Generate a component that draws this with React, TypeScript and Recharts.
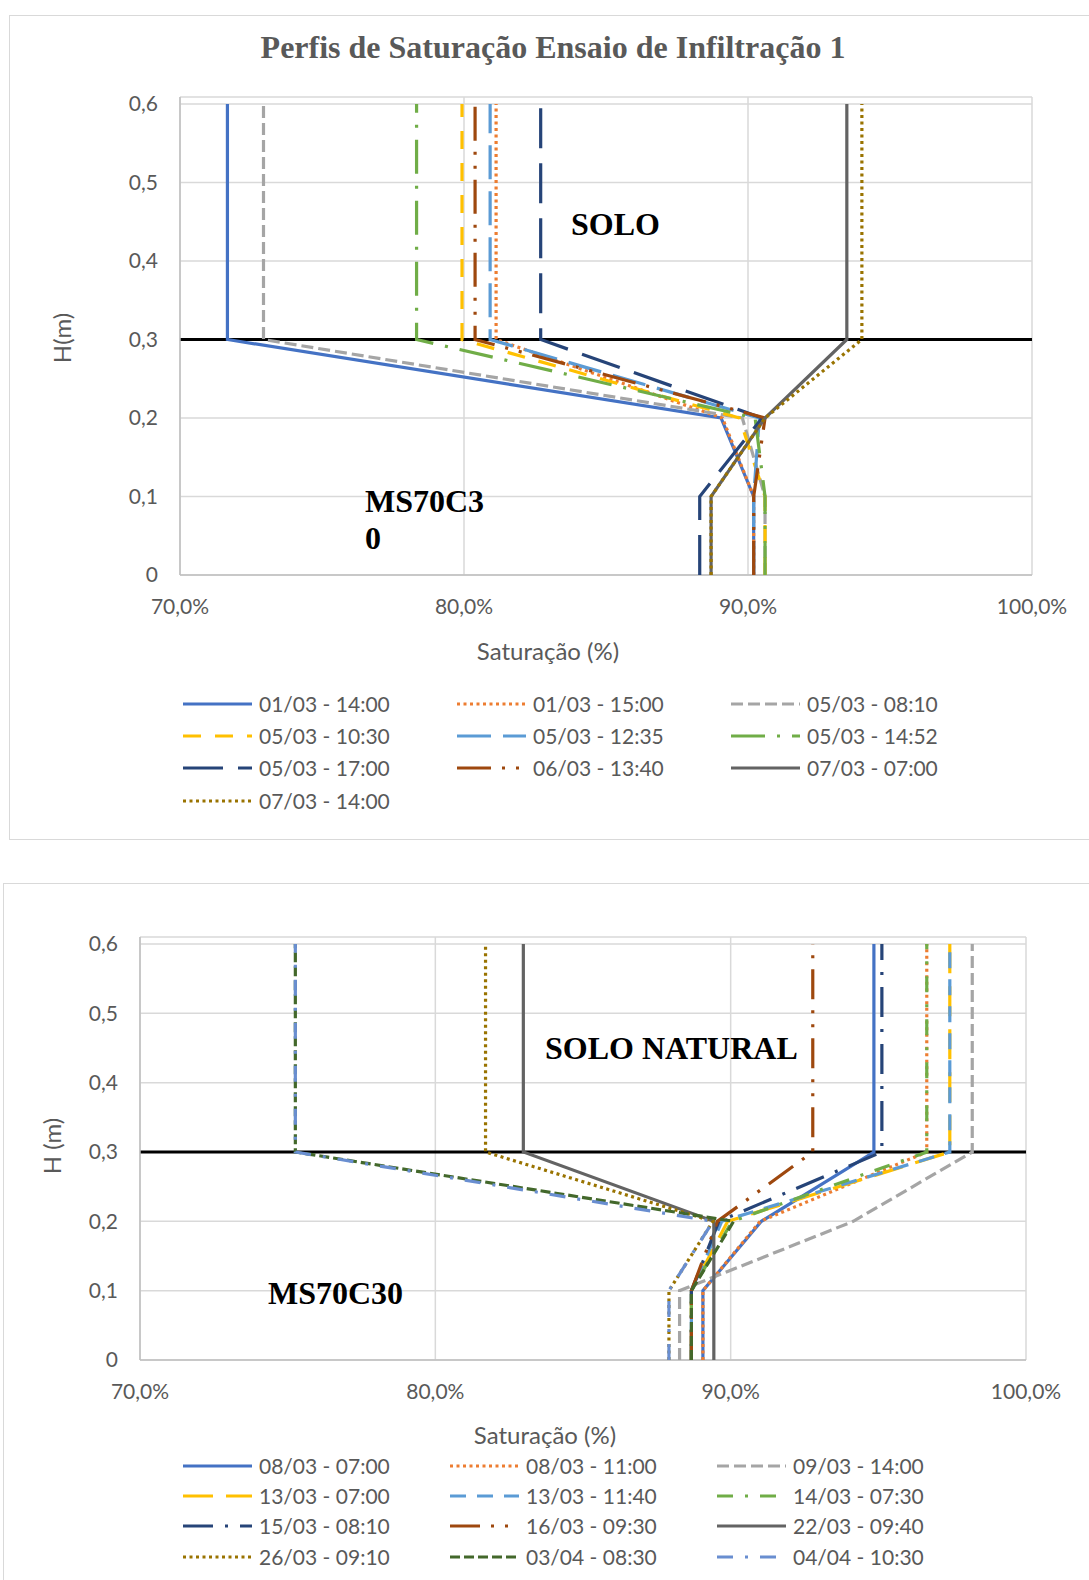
import React from 'react';
import { ScatterChart, Scatter, XAxis, YAxis, CartesianGrid, ReferenceLine } from 'recharts';

// profundidade (m) de cada ponto dos perfis
const depths = [0, 0.1, 0.2, 0.3, 0.6];
const satTicks = [70, 80, 90, 100];
const depthTicks = [0, 0.1, 0.2, 0.3, 0.4, 0.5, 0.6];

// ensaio 1 - saturação (%) em cada profundidade
const s0103_1400 = [90.2, 90.2, 89.05, 71.67, 71.67];
const s0103_1500 = [90.2, 90.2, 89.1, 81.13, 81.13];
const s0503_0810 = [90.6, 90.6, 89.8, 72.94, 72.94];
const s0503_1030 = [90.6, 90.6, 89.7, 79.93, 79.93];
const s0503_1235 = [90.2, 90.2, 90.4, 80.92, 80.92];
const s0503_1452 = [90.6, 90.6, 90.25, 78.33, 78.33];
const s0503_1700 = [88.3, 88.3, 90.5, 82.7, 82.7];
const s0603_1340 = [90.2, 90.2, 90.6, 80.39, 80.39];
const s0703_0700 = [88.7, 88.7, 90.6, 93.48, 93.48];
const s0703_1400 = [88.7, 88.7, 90.6, 94.01, 94.01];

// ensaio 2 - solo natural
const s0803_0700 = [89.06, 89.06, 91.04, 94.85, 94.85];
const s0803_1100 = [89.06, 89.06, 91.0, 96.64, 96.64];
const s0903_1400 = [88.27, 88.27, 94.15, 98.18, 98.18];
const s1303_0700 = [88.67, 88.67, 89.9, 97.42, 97.42];
const s1303_1140 = [88.67, 88.67, 89.7, 97.42, 97.42];
const s1403_0730 = [88.67, 88.67, 90.05, 96.64, 96.64];
const s1503_0810 = [88.67, 88.67, 89.6, 95.12, 95.12];
const s1603_0930 = [88.67, 88.67, 89.55, 92.78, 92.78];
const s2203_0940 = [89.43, 89.43, 89.43, 82.98, 82.98];
const s2603_0910 = [87.91, 87.91, 89.4, 81.7, 81.7];
const s0304_0830 = [88.67, 88.67, 90.1, 75.26, 75.26];
const s0404_1030 = [87.91, 87.91, 89.4, 75.26, 75.26];

const topLabels = ['01/03 - 14:00', '01/03 - 15:00', '05/03 - 08:10', '05/03 - 10:30', '05/03 - 12:35',
  '05/03 - 14:52', '05/03 - 17:00', '06/03 - 13:40', '07/03 - 07:00', '07/03 - 14:00'];
const topValues = [s0103_1400, s0103_1500, s0503_0810, s0503_1030, s0503_1235,
  s0503_1452, s0503_1700, s0603_1340, s0703_0700, s0703_1400];

const bottomLabels = ['08/03 - 07:00', '08/03 - 11:00', '09/03 - 14:00', '13/03 - 07:00', '13/03 - 11:40',
  '14/03 - 07:30', '15/03 - 08:10', '16/03 - 09:30', '22/03 - 09:40', '26/03 - 09:10', '03/04 - 08:30', '04/04 - 10:30'];
const bottomValues = [s0803_0700, s0803_1100, s0903_1400, s1303_0700, s1303_1140,
  s1403_0730, s1503_0810, s1603_0930, s2203_0940, s2603_0910, s0304_0830, s0404_1030];

type LineStyle = { color: string; dash?: string };

const DOT = '3 3.5';
const SYSDASH = '12 5';

const topStyles: LineStyle[] = [
  { color: '#4472C4' },
  { color: '#ED7D31', dash: DOT },
  { color: '#A5A5A5', dash: SYSDASH },
  { color: '#FFC000', dash: '18 14' },
  { color: '#5B9BD5', dash: '34 12' },
  { color: '#70AD47', dash: '34 12 3 12' },
  { color: '#264478', dash: '40 15' },
  { color: '#9E480E', dash: '34 11 3 11 3 11' },
  { color: '#636363' },
  { color: '#997300', dash: DOT },
];

const bottomStyles: LineStyle[] = [
  { color: '#4472C4' },
  { color: '#ED7D31', dash: DOT },
  { color: '#A5A5A5', dash: SYSDASH },
  { color: '#FFC000', dash: '30 13' },
  { color: '#5B9BD5', dash: '16 11' },
  { color: '#70AD47', dash: '16 12 3 12' },
  { color: '#264478', dash: '30 12 3 12' },
  { color: '#9E480E', dash: '30 11 3 11 3 11' },
  { color: '#636363' },
  { color: '#997300', dash: DOT },
  { color: '#43682B', dash: '10 4' },
  { color: '#698ED0', dash: '16 12 3 12' },
];

const FONT = 'Lato, "Open Sans", sans-serif';
const SERIF = '"Liberation Serif", "Times New Roman", serif';
const TEXT = '#595959';

const fmtDepth = (v: number) => (v === 0 ? '0' : v.toFixed(1).replace('.', ','));
const fmtSat = (v: number) => v.toFixed(1).replace('.', ',') + '%';
const noShape = () => <g />;

const toPoints = (vals: number[]) => depths.map((h, i) => ({ s: vals[i], h }));

interface ProfileProps {
  width: number;
  height: number;
  margin: { top: number; right: number; bottom: number; left: number };
  yMax: number;
  values: number[][];
  styles: LineStyle[];
}

const ProfileChart: React.FC<ProfileProps> = ({ width, height, margin, yMax, values, styles }) => (
  <ScatterChart width={width} height={height} margin={margin}>
    <CartesianGrid stroke="#d9d9d9" strokeWidth={1.5} />
    <XAxis
      type="number"
      dataKey="s"
      domain={[70, 100]}
      ticks={satTicks}
      tickFormatter={fmtSat}
      allowDataOverflow
      height={50}
      tickSize={0}
      tickMargin={24}
      axisLine={{ stroke: '#bfbfbf', strokeWidth: 1.5 }}
      tick={{ fill: TEXT, fontSize: 21, fontFamily: FONT }}
    />
    <YAxis
      type="number"
      dataKey="h"
      domain={[0, yMax]}
      ticks={depthTicks}
      tickFormatter={fmtDepth}
      allowDataOverflow
      width={60}
      tickSize={0}
      tickMargin={22}
      axisLine={{ stroke: '#bfbfbf', strokeWidth: 1.5 }}
      tick={{ fill: TEXT, fontSize: 21, fontFamily: FONT }}
    />
    {values.map((vals, i) => (
      <Scatter
        key={i}
        data={toPoints(vals)}
        fill={styles[i].color}
        shape={noShape}
        line={{ stroke: styles[i].color, strokeWidth: 3.2, strokeDasharray: styles[i].dash }}
        lineType="joint"
        isAnimationActive={false}
      />
    ))}
    <ReferenceLine y={0.3} stroke="#000" strokeWidth={3} />
  </ScatterChart>
);

const LegendGrid: React.FC<{ labels: string[]; styles: LineStyle[]; top: number; rowGap: number; cols: number[] }> = ({
  labels, styles, top, rowGap, cols,
}) => (
  <>
    {labels.map((lab, i) => {
      const col = i % 3;
      const row = Math.floor(i / 3);
      const cy = top + row * rowGap;
      return (
        <div key={lab} style={{ position: 'absolute', left: cols[col], top: cy - 12, height: 24 }}>
          <svg width={70} height={24} style={{ position: 'absolute', left: 0, top: 0 }}>
            <line x1={0} y1={12} x2={69} y2={12} stroke={styles[i].color} strokeWidth={3.2} strokeDasharray={styles[i].dash} />
          </svg>
          <span style={{ position: 'absolute', left: 76, top: 0, lineHeight: '24px', fontSize: 21, fontFamily: FONT, color: TEXT, whiteSpace: 'nowrap' }}>
            {lab}
          </span>
        </div>
      );
    })}
  </>
);

const centered = (x: number, y: number, extra: React.CSSProperties = {}): React.CSSProperties => ({
  position: 'absolute', left: x, top: y, transform: 'translate(-50%, -50%)', lineHeight: 1, whiteSpace: 'nowrap', ...extra,
});

const annot: React.CSSProperties = { position: 'absolute', fontFamily: SERIF, fontWeight: 'bold', fontSize: 32, color: '#000', lineHeight: '37px', whiteSpace: 'nowrap' };
const axisTitle: React.CSSProperties = { fontFamily: FONT, fontSize: 24, color: TEXT };
const rotated: React.CSSProperties = { ...axisTitle, transform: 'translate(-50%, -50%) rotate(-90deg)' };

export default function App() {
  return (
    <div style={{ position: 'absolute', left: 0, top: 0, width: 1089, height: 1580, background: '#fff', overflow: 'hidden' }}>
      {/* ensaio 1 */}
      <div style={{ position: 'absolute', left: 9, top: 15, width: 1100, height: 825, border: '1.5px solid #d9d9d9', boxSizing: 'border-box' }} />
      <div style={centered(553, 47, { fontFamily: SERIF, fontWeight: 'bold', fontSize: 32, color: TEXT })}>
        Perfis de Saturação Ensaio de Infiltração 1
      </div>
      <div style={{ position: 'absolute', left: 0, top: 0 }}>
        <ProfileChart
          width={1089}
          height={640}
          margin={{ top: 97, right: 57, bottom: 15, left: 120 }}
          yMax={0.6089}
          values={topValues}
          styles={topStyles}
        />
      </div>
      <div style={centered(62, 338, rotated)}>H(m)</div>
      <div style={centered(548, 651, axisTitle)}>Saturação (%)</div>
      <div style={{ ...annot, left: 571, top: 224 - 18 }}>SOLO</div>
      <div style={{ ...annot, left: 365, top: 501 - 18 }}>MS70C3<br />0</div>
      <LegendGrid labels={topLabels} styles={topStyles} top={704} rowGap={32.2} cols={[183, 457, 731]} />

      {/* ensaio 2 */}
      <div style={{ position: 'absolute', left: 3, top: 883, width: 1100, height: 720, border: '1.5px solid #d9d9d9', boxSizing: 'border-box' }} />
      <div style={{ position: 'absolute', left: 0, top: 880 }}>
        <ProfileChart
          width={1089}
          height={560}
          margin={{ top: 57, right: 63, bottom: 30, left: 80 }}
          yMax={0.6101}
          values={bottomValues}
          styles={bottomStyles}
        />
      </div>
      <div style={centered(52, 1146, rotated)}>H (m)</div>
      <div style={centered(545, 1435, axisTitle)}>Saturação (%)</div>
      <div style={{ ...annot, left: 545, top: 1048 - 18 }}>SOLO NATURAL</div>
      <div style={{ ...annot, left: 268, top: 1293 - 18 }}>MS70C30</div>
      <LegendGrid labels={bottomLabels} styles={bottomStyles} top={1466} rowGap={30.2} cols={[183, 450, 717]} />
    </div>
  );
}
